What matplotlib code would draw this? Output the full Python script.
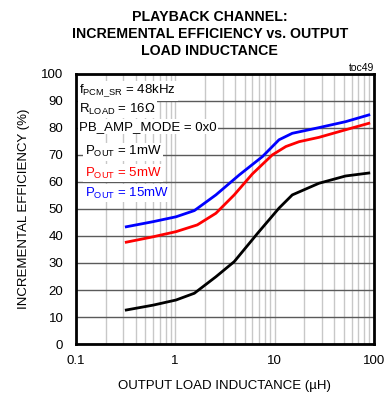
import numpy as np
import matplotlib
matplotlib.use("Agg")
import matplotlib.pyplot as plt
from matplotlib.ticker import LogLocator, NullFormatter

plt.rcParams['font.family'] = ['Liberation Sans Narrow', 'Liberation Sans', 'DejaVu Sans']
plt.rcParams['mathtext.fontset'] = 'custom'
plt.rcParams['mathtext.rm'] = 'Liberation Sans'

# data (inductance in uH, efficiency in %)
l_1mw = [0.322, 0.6, 1.02, 1.56, 2.57, 3.93, 6.76, 11.1, 15.1, 28, 51.9, 89]
eff_1mw = [12.6, 14.4, 16.3, 18.8, 24.9, 30.5, 41.0, 50.3, 55.2, 59.5, 62.2, 63.3]
l_5mw = [0.322, 0.6, 1.02, 1.67, 2.57, 3.93, 6.0, 9.5, 13.0, 17.7, 28, 51.9, 89]
eff_5mw = [37.7, 39.7, 41.6, 44.1, 48.4, 55.2, 63.0, 70.0, 73.1, 74.9, 76.5, 79.3, 81.7]
l_15mw = [0.322, 0.6, 1.02, 1.56, 2.57, 4.42, 7.57, 11.1, 15.1, 28, 51.9, 89]
eff_15mw = [43.4, 45.3, 47.1, 49.4, 55.2, 62.6, 69.4, 75.6, 78.0, 80.1, 82.3, 84.8]

fig = plt.figure(figsize=(3.85, 3.95), dpi=100)
ax = fig.add_axes([0.197, 0.129, 0.774, 0.684])

ax.plot(l_1mw, eff_1mw, color='black', lw=2.0, zorder=3, solid_joinstyle='round')
ax.plot(l_5mw, eff_5mw, color='#ff0000', lw=2.0, zorder=3, solid_joinstyle='round')
ax.plot(l_15mw, eff_15mw, color='#0000ff', lw=2.0, zorder=3, solid_joinstyle='round')

ax.set_xscale('log')
ax.set_xlim(0.1, 100)
ax.set_ylim(0, 100)
ax.set_yticks(np.arange(0, 101, 10))
ax.set_xticks([0.1, 1, 10, 100])
ax.set_xticklabels(['0.1', '1', '10', '100'])
ax.xaxis.set_minor_locator(LogLocator(base=10, subs=np.arange(2, 10)))
ax.xaxis.set_minor_formatter(NullFormatter())

ax.grid(True, axis='x', which='both', color='#c8c8c8', lw=1.0)
ax.grid(True, axis='y', which='major', color='#5a5a5a', lw=1.0)
ax.tick_params(axis='both', which='both', length=0, labelsize=9.5)
ax.tick_params(axis='y', pad=9)
ax.tick_params(axis='x', pad=8)
for s in ax.spines.values():
    s.set_linewidth(2.0)
    s.set_zorder(5)

ax.set_xlabel('OUTPUT LOAD INDUCTANCE (\u00b5H)', fontsize=9.5, labelpad=9)
ax.set_ylabel('INCREMENTAL EFFICIENCY (%)', fontsize=9.5, labelpad=8)

fig.text(0.545, 0.975, 'PLAYBACK CHANNEL:\nINCREMENTAL EFFICIENCY vs. OUTPUT\nLOAD INDUCTANCE',
         ha='center', va='top', fontsize=10.2, fontweight='bold', linespacing=1.3)
ax.text(1.0, 1.004, 'toc49', transform=ax.transAxes, ha='right', va='bottom', fontsize=7.5)

bbox = dict(facecolor='white', edgecolor='none', pad=1.0)
labels = [
    (0.012, 0.937, r'f$_{\mathregular{PCM\_SR}}$ = 48kHz', 'black'),
    (0.012, 0.87, r'R$_{\mathregular{LOAD}}$ = 16$\Omega$', 'black'),
    (0.012, 0.804, 'PB_AMP_MODE = 0x0', 'black'),
    (0.03, 0.711, r'P$_{\mathregular{OUT}}$ = 1mW', 'black'),
    (0.03, 0.633, r'P$_{\mathregular{OUT}}$ = 5mW', '#ff0000'),
    (0.03, 0.559, r'P$_{\mathregular{OUT}}$ = 15mW', '#0000ff'),
]
for x, y, s, c in labels:
    ax.text(x, y, s, transform=ax.transAxes, fontsize=9.5, va='center',
            color=c, bbox=bbox, zorder=4)

fig.savefig('out.png', dpi=100)
